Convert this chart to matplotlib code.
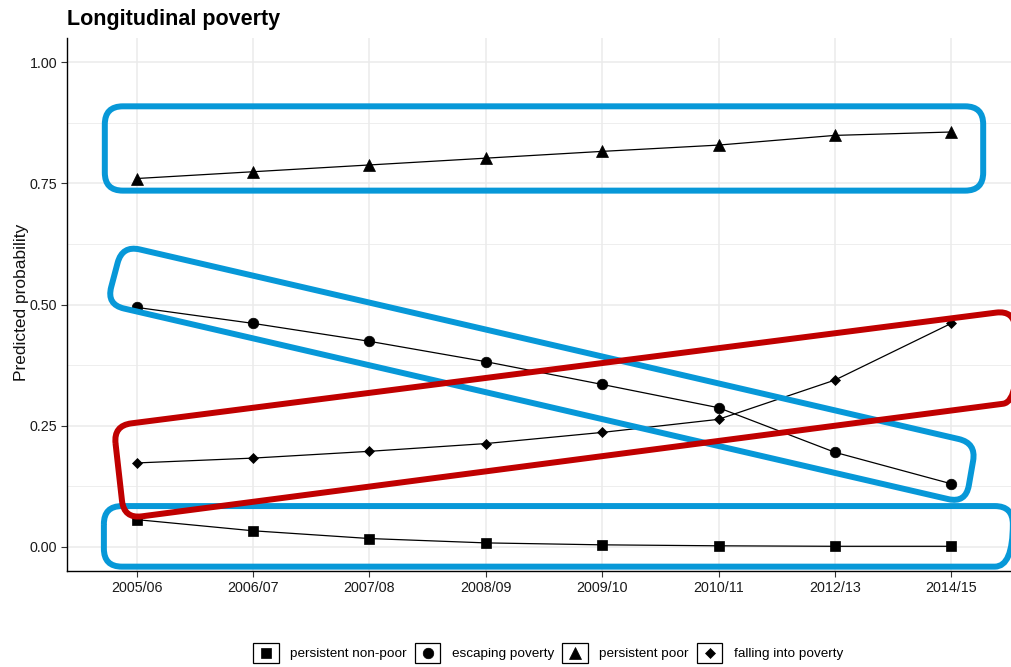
import numpy as np
import matplotlib
matplotlib.use('Agg')
import matplotlib.pyplot as plt
from matplotlib.lines import Line2D
from matplotlib.patches import Rectangle, PathPatch
from matplotlib.path import Path
from matplotlib.legend_handler import HandlerBase
from matplotlib.ticker import MultipleLocator

plt.rcParams['font.family'] = ['Liberation Sans', 'DejaVu Sans']

# ── Data ──────────────────────────────────────────────────────────────────────
years = ['2005/06', '2006/07', '2007/08', '2008/09',
         '2009/10', '2010/11', '2012/13', '2014/15']

persistent_non_poor = [0.056, 0.033, 0.017, 0.008, 0.004, 0.002, 0.001, 0.001]
escaping_poverty    = [0.494, 0.461, 0.424, 0.382, 0.335, 0.287, 0.195, 0.130]
persistent_poor     = [0.760, 0.774, 0.788, 0.802, 0.816, 0.829, 0.849, 0.856]
falling_into        = [0.173, 0.183, 0.197, 0.213, 0.236, 0.263, 0.344, 0.461]

series = [
    ('persistent non-poor', persistent_non_poor, 's', 7.3),
    ('escaping poverty',    escaping_poverty,    'o', 7.6),
    ('persistent poor',     persistent_poor,     '^', 9.0),
    ('falling into poverty', falling_into,       'D', 4.9),
]

# highlight frames: corners (category index, probability), clockwise from top-left
frame_top     = [(-0.275, 0.909), (7.275, 0.909), (7.275, 0.735), (-0.275, 0.735)]
frame_escape  = [(-0.125, 0.622), (7.215, 0.214), (7.125, 0.090), (-0.260, 0.500)]
frame_falling = [(-0.200, 0.250), (7.540, 0.488), (7.600, 0.300), (-0.110, 0.058)]
frame_bottom  = [(-0.283, 0.084), (7.530, 0.084), (7.530, -0.041), (-0.283, -0.041)]

BLUE = '#0798d8'
RED = '#c00000'


def rounded_frame(ax, corners, color, radius=18, lw=4.3, z=5):
    """Closed polygon with rounded corners; radius in pixels."""
    pts = ax.transData.transform(np.array(corners, dtype=float))
    n = len(pts)
    verts, codes = [], []
    for i in range(n):
        prev_p, cur, nxt = pts[i - 1], pts[i], pts[(i + 1) % n]
        a = cur + (prev_p - cur) / np.linalg.norm(prev_p - cur) * radius
        b = cur + (nxt - cur) / np.linalg.norm(nxt - cur) * radius
        verts.append(a)
        codes.append(Path.MOVETO if i == 0 else Path.LINETO)
        verts += [cur, b]
        codes += [Path.CURVE3, Path.CURVE3]
    verts.append(verts[0]); codes.append(Path.LINETO)
    verts.append(verts[0]); codes.append(Path.CLOSEPOLY)
    data_verts = ax.transData.inverted().transform(np.array(verts))
    patch = PathPatch(Path(data_verts, codes), facecolor='none', edgecolor=color,
                      lw=lw, joinstyle='round', zorder=z, transform=ax.transData)
    ax.add_patch(patch)


class KeyBoxHandler(HandlerBase):
    """Legend key drawn as a bordered box with the series marker inside."""
    def create_artists(self, legend, orig_handle, xdescent, ydescent,
                       width, height, fontsize, trans):
        box = Rectangle((-xdescent, -ydescent), width, height, facecolor='white',
                        edgecolor='black', lw=0.9, transform=trans)
        mk = Line2D([-xdescent + width / 2], [-ydescent + height / 2],
                    marker=orig_handle.get_marker(), ls='none', color='black',
                    markersize=orig_handle.get_markersize(),
                    markeredgewidth=orig_handle.get_markeredgewidth(),
                    transform=trans)
        return [box, mk]


# ── Figure ────────────────────────────────────────────────────────────────────
W, H = 1011, 667
fig = plt.figure(figsize=(W / 100, H / 100), dpi=100)
fig.patch.set_facecolor('white')
ax = fig.add_axes([67 / W, 1 - 571 / H, (1021 - 67) / W, (571 - 38) / H])

x = np.arange(len(years))
ax.set_xlim(-0.6, len(years) - 1 + 0.6)
ax.set_ylim(-0.05, 1.05)

handles = []
for label, vals, marker, ms in series:
    ln, = ax.plot(x, vals, color='black', lw=0.9, marker=marker, markersize=ms,
                  markeredgewidth=0.5, label=label, zorder=3)
    handles.append(ln)

ax.set_xticks(x)
ax.set_xticklabels(years)
ax.yaxis.set_major_locator(MultipleLocator(0.25))
ax.yaxis.set_minor_locator(MultipleLocator(0.125))
ax.yaxis.set_major_formatter(lambda v, pos: f'{v:.2f}')

ax.grid(True, which='major', color='#ebebeb', lw=1.1, zorder=0)
ax.grid(True, which='minor', axis='y', color='#ebebeb', lw=0.6, zorder=0)
ax.set_axisbelow(True)
ax.tick_params(axis='both', which='major', length=4, width=0.8, color='#333333',
               labelsize=10.3, labelcolor='#1a1a1a', pad=3)
ax.tick_params(axis='y', which='minor', length=0)
for side in ('top', 'right'):
    ax.spines[side].set_visible(False)
for side in ('left', 'bottom'):
    ax.spines[side].set_color('black')
    ax.spines[side].set_linewidth(1.0)

for corners in (frame_top, frame_escape, frame_bottom):
    rounded_frame(ax, corners, BLUE, z=5)
rounded_frame(ax, frame_falling, RED, z=6)

fig.text(67 / W, 1 - 25 / H, 'Longitudinal poverty', fontsize=15.5,
         fontweight='bold', ha='left', va='baseline')
fig.text(22 / W, 1 - 302 / H, 'Predicted probability', fontsize=12.5,
         rotation=90, ha='center', va='center', color='#111111')

fig.legend(handles=handles, loc='center', bbox_to_anchor=(548 / W, 1 - 653 / H),
           ncol=4, frameon=False, fontsize=9.7, handlelength=1.9,
           handleheight=1.95, handletextpad=0.85, columnspacing=0.6,
           handler_map={Line2D: KeyBoxHandler()})

fig.savefig('out.png', dpi=100, facecolor='white')
